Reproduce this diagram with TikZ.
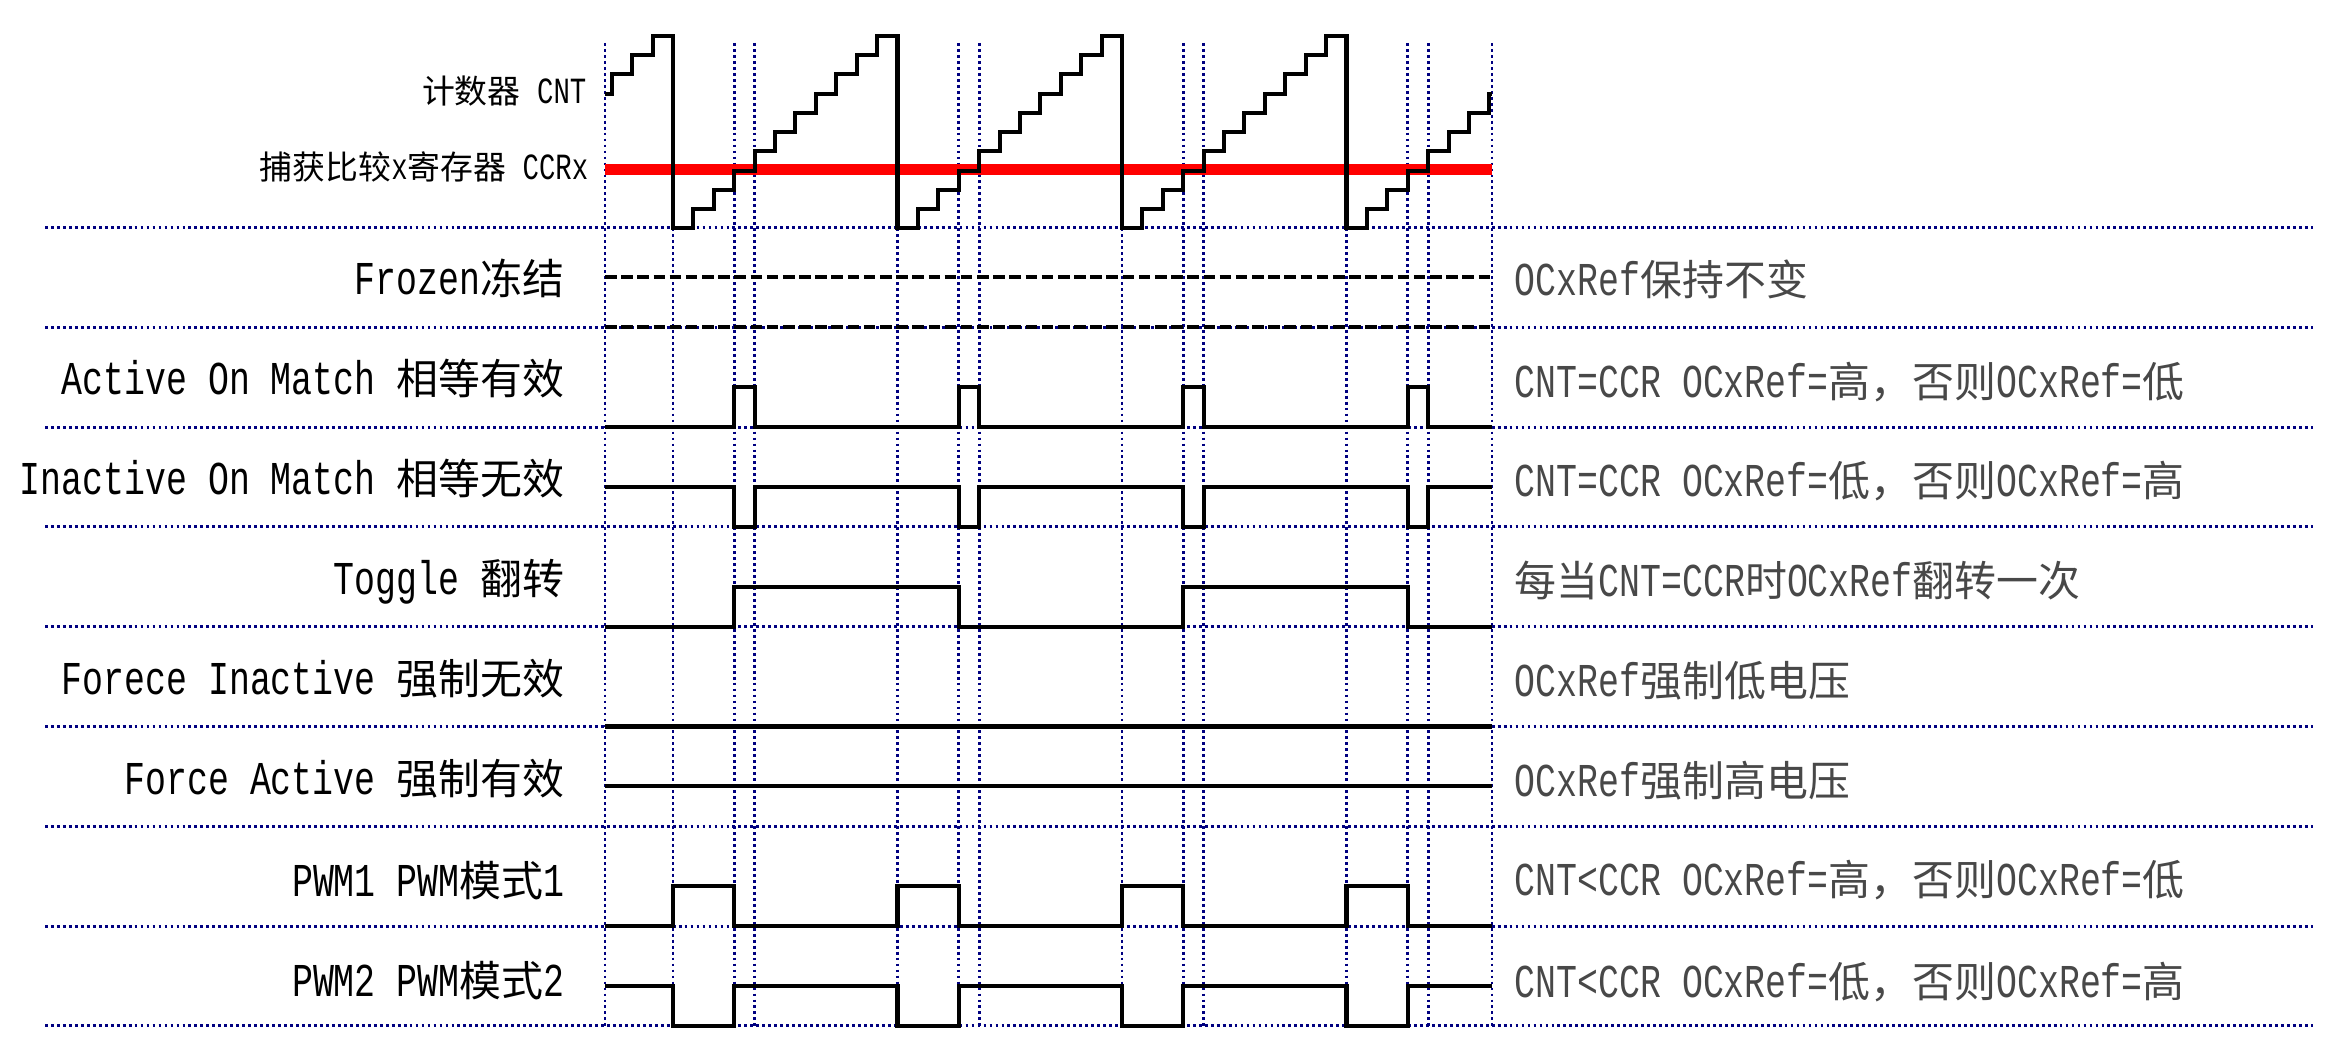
\documentclass[tikz,border=0pt]{standalone}
\usepackage{fontspec}
\setmainfont{Liberation Mono}[FakeStretch=0.74]
\newfontfamily\cjk{Noto Sans CJK SC}[Scale=0.89]
\usetikzlibrary{positioning}
\definecolor{navy}{RGB}{0,0,128}
\definecolor{ccrred}{RGB}{255,0,0}
\definecolor{notegray}{RGB}{72,72,72}

\begin{document}
\begin{tikzpicture}[
		x=0.01cm, y=-0.01cm,
		gridline/.style={navy, line width=0.8pt, dash pattern=on 0.8pt off 0.9pt},
		sigline/.style={black, line width=1.15pt, line join=miter},
		frozenline/.style={black, line width=1.15pt, dash pattern=on 3.3pt off 1.3pt},
		rowlabel/.style={anchor=base east, inner sep=0pt, font=\fontsize{13.4}{15}\selectfont},
		rownote/.style={anchor=base west, inner sep=0pt, text=notegray, font=\fontsize{13.4}{15}\selectfont},
		reglabel/.style={anchor=base east, inner sep=0pt, font=\fontsize{10.5}{12}\selectfont}
		]
		\useasboundingbox (0,0) rectangle (2332,1055);
		
		% Grid
		\foreach \i in {0,...,8}
		\draw[gridline] (45,{227.5+99.8*\i}) -- (2313,{227.5+99.8*\i});
		\draw[gridline] (605,43) -- (605,1026);
		\draw[gridline] (1492,43) -- (1492,1026);
		\foreach \t in {0,...,3}
		\foreach \dx in {0,61.2,81.6}
		\draw[gridline] ({673+224.5*\t+\dx},43) -- ({673+224.5*\t+\dx},1026);
		
		% Counter and compare register
		\draw[ccrred, line width=2.85pt] (605,169.5) -- (1492,169.5);
		\draw[sigline] (605,{228.3-7*19.23})
		\foreach \n [evaluate=\n as \xx using {673+(\n-11)*20.409},
		evaluate=\n as \yo using {228.3-19.23*mod(\n+10,11)},
		evaluate=\n as \yn using {228.3-19.23*mod(\n,11)}] in {8,...,51}
		{ -- (\xx,\yo) -- (\xx,\yn) }
		-- (1492,{228.3-7*19.23});
		
		\node[reglabel] (cnt) at (587,104) {{\cjk 计数器} CNT};
		\node[reglabel] (ccr) at (589,180) {{\cjk 捕获比较}x{\cjk 寄存器} CCRx};
		
		% Frozen
		\draw[frozenline] (605,277.3) -- (1492,277.3);
		\draw[frozenline] (605,327.3) -- (1492,327.3);
		\node[rowlabel] (frozen) at (565,294.4) {Frozen{\cjk 冻结}};
		\node[rownote] (frozennote) at (1514,295.4) {OCxRef{\cjk 保持不变}};
		
		% Active On Match
		\draw[sigline] (605,427.1)
		\foreach \t in {0,...,3} { -- ({734.2+224.5*\t},427.1) |- ({754.6+224.5*\t},387.1) -- ({754.6+224.5*\t},427.1) }
		-- (1492,427.1);
		\node[rowlabel] (active) at (565,394.2) {Active On Match {\cjk 相等有效}};
		\node[rownote] (activenote) at (1514,397.2) {CNT=CCR OCxRef={\cjk 高，否则}OCxRef={\cjk 低}};
		
		% Inactive On Match
		\draw[sigline] (605,486.9)
		\foreach \t in {0,...,3} { -- ({734.2+224.5*\t},486.9) |- ({754.6+224.5*\t},526.9) -- ({754.6+224.5*\t},486.9) }
		-- (1492,486.9);
		\node[rowlabel] (inactive) at (565,495) {Inactive On Match {\cjk 相等无效}};
		\node[rownote] (inactivenote) at (1514,497) {CNT=CCR OCxRef={\cjk 低，否则}OCxRef={\cjk 高}};
		
		% Toggle
		\draw[sigline] (605,626.7) -- (734.2,626.7) |- (958.7,586.7) |- (1183.2,626.7)
		|- (1407.7,586.7) |- (1492,626.7);
		\node[rowlabel] (toggle) at (565,594.8) {Toggle {\cjk 翻转}};
		\node[rownote] (togglenote) at (1514,596.8) {{\cjk 每当}CNT=CCR{\cjk 时}OCxRef{\cjk 翻转一次}};
		
		% Force Inactive
		\draw[sigline] (605,726.5) -- (1492,726.5);
		\node[rowlabel] (forcelow) at (565,694.6) {Forece Inactive {\cjk 强制无效}};
		\node[rownote] (forcelownote) at (1514,696.6) {OCxRef{\cjk 强制低电压}};
		
		% Force Active
		\draw[sigline] (605,786.3) -- (1492,786.3);
		\node[rowlabel] (forcehigh) at (565,794.4) {Force Active {\cjk 强制有效}};
		\node[rownote] (forcehighnote) at (1514,796.4) {OCxRef{\cjk 强制高电压}};
		
		% PWM1
		\draw[sigline] (605,926.1)
		\foreach \t in {0,...,3} { -- ({673+224.5*\t},926.1) |- ({734.2+224.5*\t},886.1) -- ({734.2+224.5*\t},926.1) }
		-- (1492,926.1);
		\node[rowlabel] (pwma) at (565,896.2) {PWM1 PWM{\cjk 模式}1};
		\node[rownote] (pwmanote) at (1514,895.2) {CNT<CCR OCxRef={\cjk 高，否则}OCxRef={\cjk 低}};
		
		% PWM2
		\draw[sigline] (605,985.9)
		\foreach \t in {0,...,3} { -- ({673+224.5*\t},985.9) |- ({734.2+224.5*\t},1025.9) -- ({734.2+224.5*\t},985.9) }
		-- (1492,985.9);
		\node[rowlabel] (pwmb) at (565,996) {PWM2 PWM{\cjk 模式}2};
		\node[rownote] (pwmbnote) at (1514,998) {CNT<CCR OCxRef={\cjk 低，否则}OCxRef={\cjk 高}};
		
	\end{tikzpicture}
\end{document}
